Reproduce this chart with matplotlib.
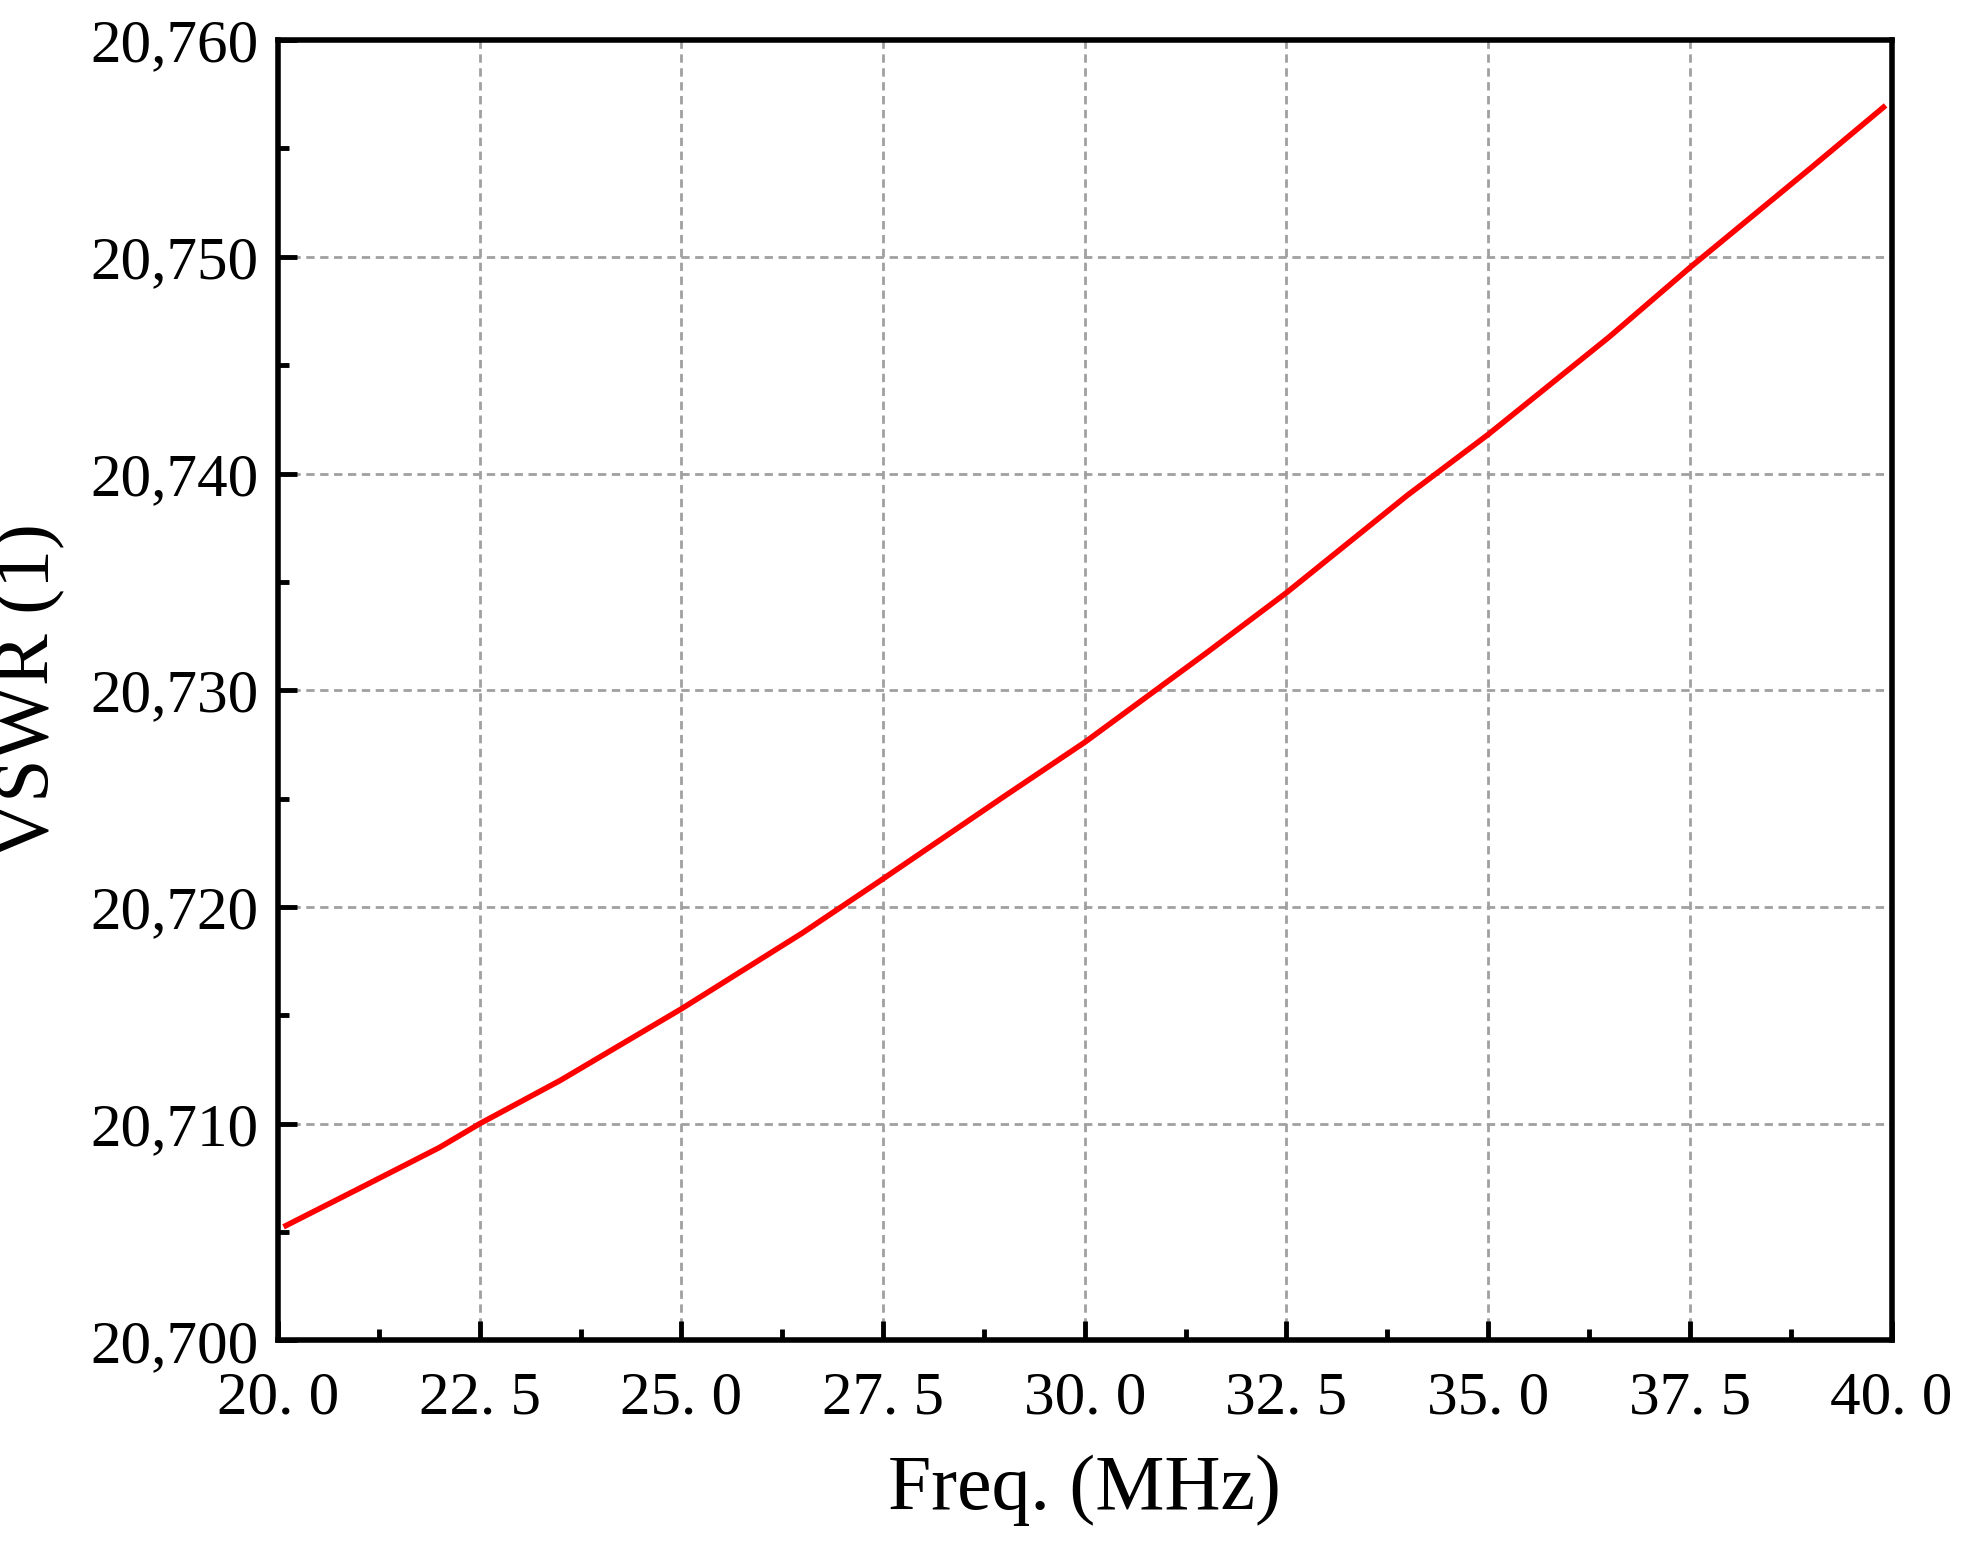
import matplotlib
matplotlib.use("Agg")
import matplotlib.pyplot as plt
from matplotlib.ticker import FuncFormatter, MultipleLocator

freq = [20.1, 21.0, 22.0, 22.5, 23.5, 25.0, 26.5, 27.5, 29.0, 30.0, 31.5, 32.5, 34.0, 35.0, 36.5, 37.5, 39.0, 39.9]
vswr = [20.7053, 20.7070, 20.7089, 20.7100, 20.7120, 20.7153, 20.7188, 20.7213, 20.7251, 20.7276, 20.7317, 20.7345, 20.7390, 20.7418, 20.7463, 20.7495, 20.7541, 20.7569]

plt.rcParams["font.family"] = ["Liberation Serif", "DejaVu Serif"]
fig = plt.figure(figsize=(19.63, 15.52), dpi=100)
ax = fig.add_axes([0.1416, 0.1363, 0.8220, 0.8379])
ax.plot(freq, vswr, color="#ff0000", linewidth=4)
ax.set_xlim(20, 40)
ax.set_ylim(20.700, 20.760)
ax.xaxis.set_major_locator(MultipleLocator(2.5))
ax.xaxis.set_minor_locator(MultipleLocator(1.25))
ax.yaxis.set_major_locator(MultipleLocator(0.01))
ax.yaxis.set_minor_locator(MultipleLocator(0.005))
ax.xaxis.set_major_formatter(FuncFormatter(lambda v, p: f"{v:.1f}".replace(".", ". ")))
ax.yaxis.set_major_formatter(FuncFormatter(lambda v, p: f"{v:.3f}".replace(".", ",")))
ax.grid(True, which="major", color="#a0a0a0", linestyle=(0, (3, 2)), linewidth=2)
ax.tick_params(which="major", direction="in", length=14, width=3.5, labelsize=44)
ax.tick_params(axis="x", which="major", pad=22)
ax.tick_params(axis="y", which="major", pad=14)
ax.tick_params(which="minor", direction="in", length=8, width=3.5)
for s in ax.spines.values():
    s.set_linewidth(4)
ax.set_xlabel("Freq. (MHz)", fontsize=56, labelpad=20)
ax.set_ylabel("VSWR (1)", fontsize=56, labelpad=18)
fig.savefig("out.png", dpi=100)
